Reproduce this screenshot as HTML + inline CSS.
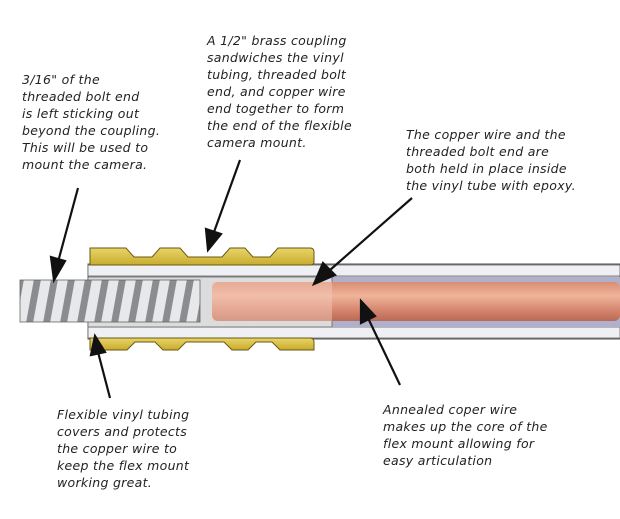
<!DOCTYPE html>
<html><head><style>
body{margin:0;width:620px;height:519px;background:#fff;overflow:hidden;position:relative;font-family:"DejaVu Sans","Liberation Sans",sans-serif;}
.t{position:absolute;font-style:italic;font-size:12.5px;line-height:17px;color:#222;white-space:nowrap;letter-spacing:0.3px}
</style></head><body>
<svg width="620" height="519" style="position:absolute;left:0;top:0">
<defs>
<linearGradient id="cu" x1="0" y1="0" x2="0" y2="1">
<stop offset="0" stop-color="#d98e73"/><stop offset="0.35" stop-color="#f0b49c"/><stop offset="0.75" stop-color="#d3826a"/><stop offset="1" stop-color="#b86a55"/></linearGradient>
<linearGradient id="br" x1="0" y1="0" x2="0" y2="1"><stop offset="0" stop-color="#e8d46a"/><stop offset="1" stop-color="#c9ac2e"/></linearGradient>
<pattern id="th" width="17" height="44" patternUnits="userSpaceOnUse" patternTransform="translate(20,279)">
<rect width="17" height="44" fill="#8a8c90"/><path d="M4 0 L14 0 L6 44 L-4 44Z" fill="#e6e8ea"/><path d="M21 0 L31 0 L23 44 L13 44Z" fill="#e6e8ea"/></pattern>
</defs>
<rect x="88" y="264" width="532" height="75" fill="#c9c9d3" stroke="#555" stroke-width="1"/>
<rect x="88" y="265" width="532" height="11" fill="#eef0f4" stroke="#666" stroke-width="0.8"/>
<rect x="88" y="327" width="532" height="11" fill="#eef0f4" stroke="#666" stroke-width="0.8"/>
<rect x="88" y="277" width="532" height="50" fill="#aeb0cc"/>
<rect x="88" y="277" width="244" height="50" fill="#dcdcdc" stroke="#666" stroke-width="0.8"/>
<rect x="212" y="282" width="408" height="39" rx="6" fill="url(#cu)"/>
<rect x="212" y="282" width="120" height="39" fill="#f2c8b8" opacity="0.5"/>
<rect x="20" y="280" width="180" height="42" fill="url(#th)" stroke="#666" stroke-width="0.8"/>
<path d="M90 248 L126 248 L134 257 L152 257 L160 248 L180 248 L188 257 L222 257 L230 248 L245 248 L253 257 L270 257 L278 248 L310 248 Q314 248 314 252 L314 262 Q314 265 310 265 L90 265Z" fill="url(#br)" stroke="#6a5a10" stroke-width="1"/>
<path d="M90 338 L310 338 Q314 338 314 342 L314 350 L280 350 L272 342 L256 342 L248 350 L232 350 L224 342 L186 342 L178 350 L163 350 L155 342 L135 342 L127 350 L90 350Z" fill="url(#br)" stroke="#6a5a10" stroke-width="1"/>
<g stroke="#111" stroke-width="2.2" fill="#111">
<line x1="78" y1="188" x2="58" y2="262"/><polygon points="51,257 65,261 54,280"/>
<line x1="240" y1="160" x2="214" y2="232"/><polygon points="206,229 221,234 208,250"/>
<line x1="412" y1="198" x2="330" y2="270"/><polygon points="323,263 335,275 314,284"/>
<line x1="400" y1="385" x2="368" y2="318"/><polygon points="361,323 375,316 361,301"/>
<line x1="110" y1="398" x2="98" y2="352"/><polygon points="91,355 105,352 95,336"/>
</g>
</svg>
<div class="t" style="left:22px;top:71px">3/16" of the<br>threaded bolt end<br>is left sticking out<br>beyond the coupling.<br>This will be used to<br>mount the camera.</div>
<div class="t" style="left:207px;top:32px">A 1/2" brass coupling<br>sandwiches the vinyl<br>tubing, threaded bolt<br>end, and copper wire<br>end together to form<br>the end of the flexible<br>camera mount.</div>
<div class="t" style="left:406px;top:126px">The copper wire and the<br>threaded bolt end are<br>both held in place inside<br>the vinyl tube with epoxy.</div>
<div class="t" style="left:57px;top:406px">Flexible vinyl tubing<br>covers and protects<br>the copper wire to<br>keep the flex mount<br>working great.</div>
<div class="t" style="left:383px;top:401px">Annealed coper wire<br>makes up the core of the<br>flex mount allowing for<br>easy articulation</div>
</body></html>
